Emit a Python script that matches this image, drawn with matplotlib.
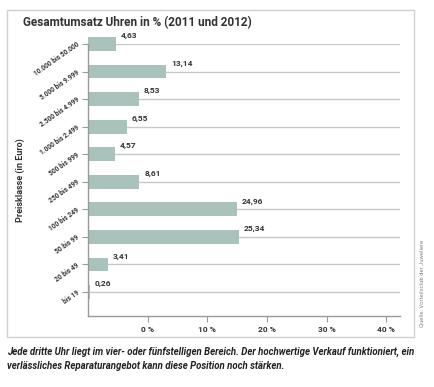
import matplotlib
matplotlib.use('Agg')
import matplotlib.pyplot as plt
from matplotlib.patches import Rectangle

# Daten (von unten nach oben)
klassen = ['bis 19', '20 bis 49', '50 bis 99', '100 bis 249', '250 bis 499',
           '500 bis 999', '1.000 bis 2.499', '2.500 bis 4.999', '5.000 bis 9.999',
           '10.000 bis 50.000']
anteile = [0.26, 3.41, 25.34, 24.96, 8.61, 4.57, 6.55, 8.53, 13.14, 4.63]
# Achsenbeschriftung wie im Original (0 % steht bei Balkenwert 10)
tick_pos = [10, 20, 30, 40, 50]
tick_labels = ['0 %', '10 %', '20 %', '30 %', '40 %']

plt.rcParams['font.family'] = ['Roboto', 'DejaVu Sans']
text_col = '#333333'
bar_col = '#a9c3bc'
grid_col = '#c8c8c8'

W, H = 435, 387
fig = plt.figure(figsize=(W / 100, H / 100), dpi=100)

# Rahmen
fig.patches.append(Rectangle((7 / W, 1 - 337 / H), 407 / W, 327 / H,
                             transform=fig.transFigure, fill=False,
                             edgecolor='#d0d0d0', linewidth=1))

ax = fig.add_axes([88 / W, 1 - 316 / H, 312 / W, 272 / H])
y = list(range(len(klassen)))

for yy in y:
    ax.axhline(yy, color=grid_col, linewidth=1, zorder=1)
ax.barh(y, anteile, height=0.5, color=bar_col, zorder=2, clip_on=False)

for yy, v in zip(y, anteile):
    ax.text(v + 0.8, yy + 0.3, f'{v:.2f}'.replace('.', ','), fontsize=6,
            fontweight='bold', color=text_col, ha='left', va='center')

ax.set_xlim(0, 52.3)
ax.set_ylim(-0.87, 9)
ax.set_xticks(tick_pos)
ax.set_xticklabels(tick_labels, fontsize=6, fontweight='bold', color=text_col)
ax.set_yticks(y)
ax.set_yticklabels(klassen, fontsize=4.8, fontweight='bold', color=text_col,
                   rotation=35, ha='right', va='center', rotation_mode='anchor')
ax.tick_params(axis='both', length=4, color='#999999', width=0.8, pad=3)

for s in ['top', 'right']:
    ax.spines[s].set_visible(False)
for s in ['left', 'bottom']:
    ax.spines[s].set_color('#999999')
    ax.spines[s].set_linewidth(1)

fig.text(20 / W, 1 - 180 / H, 'Preisklasse (in Euro)', rotation=90, fontsize=6.5,
         fontweight='bold', color=text_col, ha='center', va='center')

fig.text(23 / W, 1 - 23 / H, 'Gesamtumsatz Uhren in % (2011 und 2012)', fontsize=8.5,
         fontweight='bold', color=text_col, ha='left', va='center')

fig.text(422 / W, 1 - 283 / H, 'Quelle: Vorteilsclub der Juweliere', rotation=90,
         fontsize=4.2, color='#888888', ha='center', va='center')

fig.text(7 / W, 1 - 352 / H,
         'Jede dritte Uhr liegt im vier- oder fünfstelligen Bereich. Der hochwertige '
         'Verkauf funktioniert, ein', fontsize=6.9, fontweight='bold', style='italic',
         color='#222222', ha='left', va='center')
fig.text(7 / W, 1 - 366 / H,
         'verlässliches Reparaturangebot kann diese Position noch stärken.',
         fontsize=6.9, fontweight='bold', style='italic',
         color='#222222', ha='left', va='center')

fig.savefig('out.png', dpi=100)
